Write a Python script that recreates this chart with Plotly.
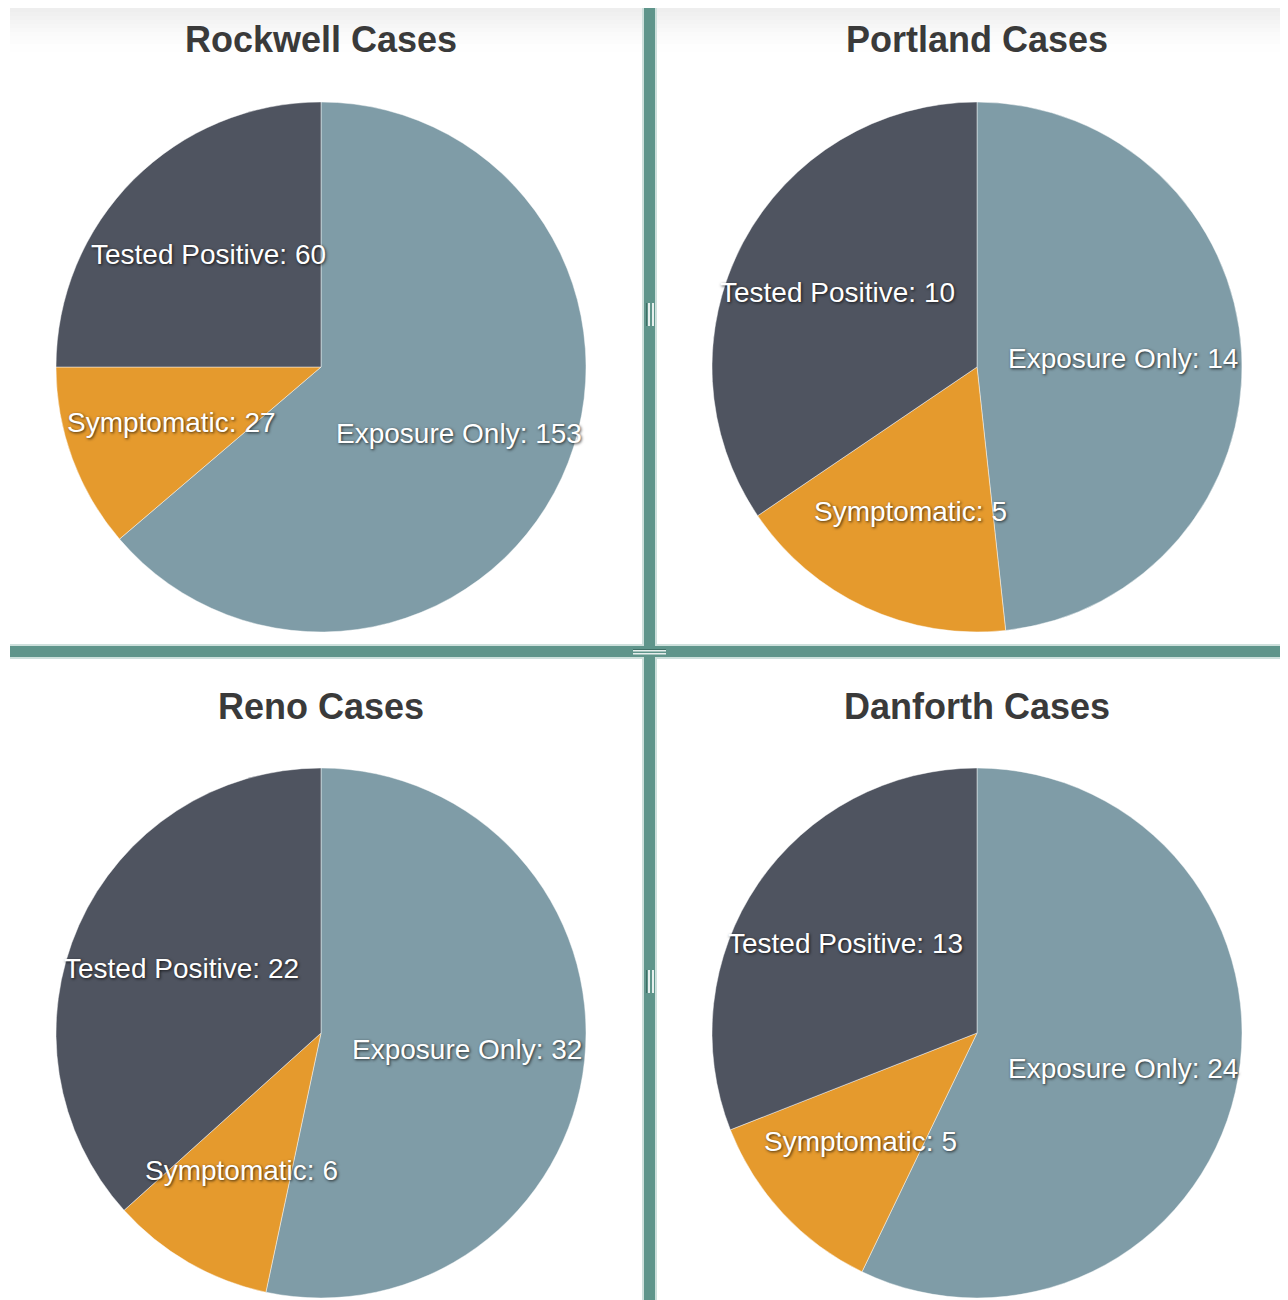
import math
import plotly.graph_objects as go

# page has an 8px body margin: the figure sits at (8, 8) in the window
OFF = 8
W, H = 1280, 1292

sites = ["Rockwell Cases", "Portland Cases", "Reno Cases", "Danforth Cases"]
categories = ["Exposure Only", "Symptomatic", "Tested Positive"]
exposure_only = [153, 14, 32, 24]
symptomatic = [27, 5, 6, 5]
tested_positive = [60, 10, 22, 13]

colors = ["#7f9ca7", "#e59a2d", "#4f5460"]
TEAL = "#5f958b"
TEAL_EDGE = "#cde0dc"
LABEL_SIZE = 28

# pie geometry in window pixels (center x, center y, radius)
centers = [(321, 367), (977, 367), (321, 1033), (977, 1033)]
R = 265
title_y = [40, 40, 706, 706]

# Arial/Liberation Sans advance widths (em units) for width estimation
ADV = {"E": .667, "x": .5, "p": .556, "o": .556, "s": .5, "u": .556, "r": .333,
       "e": .556, " ": .278, "O": .778, "n": .556, "l": .222, "y": .5, ":": .278,
       "S": .667, "m": .833, "t": .278, "a": .556, "i": .222, "c": .5, "T": .611,
       "d": .556, "P": .667, "v": .5}


def text_width(s, size):
    return sum(ADV.get(ch, .556) for ch in s) * size


def px(x):
    return (x - OFF) / W


def py(y):
    return 1 - (y - OFF) / H


fig = go.Figure()
annotations = []
shapes = []

# faint top shadow band
for i in range(12):
    y0 = 4 + i * 4
    shapes.append(dict(type="rect", xref="paper", yref="paper", layer="below",
                       x0=px(10), x1=1, y0=py(y0 + 4), y1=min(1, py(y0)),
                       fillcolor="#e9e9e9", opacity=0.9 * (1 - i / 12) ** 1.5,
                       line=dict(width=0)))

for k, name in enumerate(sites):
    vals = [exposure_only[k], symptomatic[k], tested_positive[k]]
    cx, cy = centers[k]
    fig.add_trace(go.Pie(
        labels=categories, values=vals, sort=False, direction="clockwise",
        rotation=0, textinfo="none", hoverinfo="label+value",
        marker=dict(colors=colors, line=dict(color="rgba(255,255,255,0.45)", width=1)),
        domain=dict(x=[px(cx - R), px(cx + R)], y=[py(cy + R), py(cy - R)]),
        showlegend=False,
    ))
    annotations.append(dict(
        text="<b>%s</b>" % name, x=px(cx), y=py(title_y[k]), xref="paper", yref="paper",
        showarrow=False, xanchor="center", yanchor="middle",
        font=dict(family="Liberation Sans, Arial, sans-serif", size=36, color="#3a3a3a"),
    ))
    total = sum(vals)
    cum = 0
    for cat, v in zip(categories, vals):
        mid = (cum + v / 2) / total * 2 * math.pi
        cum += v
        d = 0.6 * R
        lx = cx + d * math.sin(mid)
        ly = cy - d * math.cos(mid)
        label = "%s: %d" % (cat, v)
        # keep label inside the pie horizontally
        est_w = text_width(label, LABEL_SIZE)
        lx = min(lx, cx + R - 4 - est_w / 2)
        lx = max(lx, cx - R + 6 + est_w / 2)
        annotations.append(dict(
            text=label, x=px(lx), y=py(ly), xref="paper", yref="paper",
            showarrow=False, xanchor="center", yanchor="middle",
            font=dict(family="Liberation Sans, Arial, sans-serif", size=LABEL_SIZE,
                      color="#ffffff", shadow="1px 1px 3px rgba(0,0,0,0.75)"),
        ))


def rect(x0, y0, x1, y1, color):
    shapes.append(dict(type="rect", xref="paper", yref="paper", layer="above",
                       x0=max(0, px(x0)), x1=min(1, px(x1)),
                       y0=max(0, py(y1)), y1=min(1, py(y0)),
                       fillcolor=color, line=dict(width=0)))


# divider lines
rect(10, 644, 1288, 659, TEAL_EDGE)
rect(642, 4, 657, 1300, TEAL_EDGE)
rect(10, 646, 1288, 657, TEAL)
rect(644, 4, 655, 1300, TEAL)

# grips
for gy in (303, 970):
    rect(646, gy, 647, gy + 23, "#3f6f66")
    rect(648, gy, 650, gy + 23, "#e6efed")
    rect(652, gy, 654, gy + 23, "#e6efed")
rect(633, 649, 666, 650, "#3f6f66")
rect(633, 650, 666, 651.5, "#e6efed")
rect(633, 653, 666, 654.5, "#e6efed")

fig.update_layout(
    width=W, height=H, margin=dict(l=0, r=0, t=0, b=0),
    paper_bgcolor="#ffffff", plot_bgcolor="#ffffff",
    annotations=annotations, shapes=shapes,
)

fig.write_html("out.html")
